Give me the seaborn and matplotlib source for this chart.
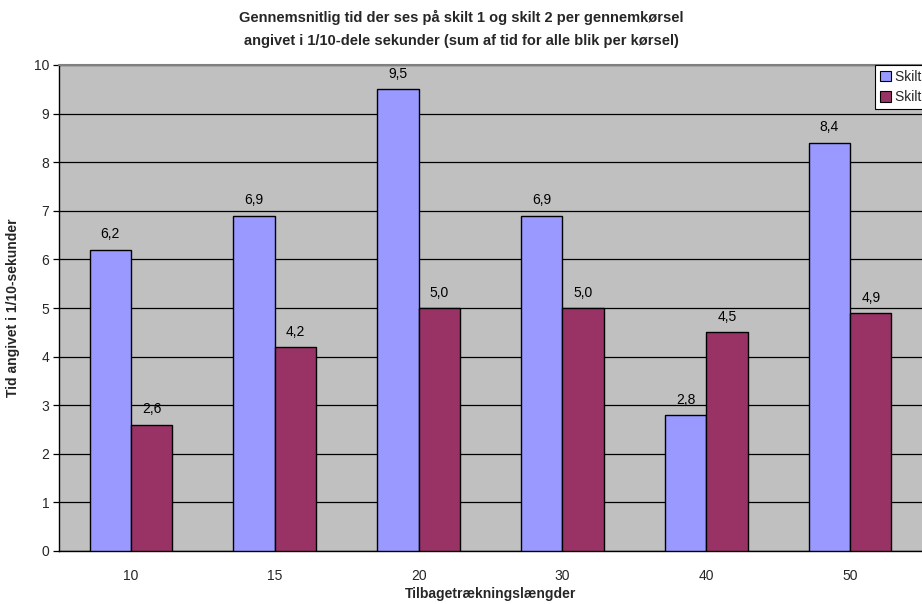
import matplotlib
matplotlib.use("Agg")
import matplotlib.pyplot as plt
import seaborn as sns
import pandas as pd
import numpy as np

categories = ["10", "15", "20", "30", "40", "50"]
skilt1 = [6.2, 6.9, 9.5, 6.9, 2.8, 8.4]
skilt2 = [2.6, 4.2, 5.0, 5.0, 4.5, 4.9]
series_names = ["Skilt 1", "Skilt 2"]
colors = ["#9999FF", "#993366"]

df = pd.DataFrame({
    "Tilbagetrækningslængder": categories * 2,
    "Tid": skilt1 + skilt2,
    "Serie": [series_names[0]] * len(categories) + [series_names[1]] * len(categories),
})

sns.set_style("white")
plt.rcParams["font.family"] = ["Liberation Sans", "DejaVu Sans"]

fig = plt.figure(figsize=(9.22, 6.04), dpi=100)
ax = fig.add_axes([59 / 922, 1 - 551 / 604, 1 - 59 / 922, (551 - 65) / 604])
ax.set_facecolor("#C0C0C0")

sns.barplot(data=df, x="Tilbagetrækningslængder", y="Tid", hue="Serie",
            palette=colors, width=0.574, gap=0, dodge=True,
            edgecolor="black", linewidth=1.0, saturation=1, ax=ax,
            legend=False, zorder=3)

for container in ax.containers:
    labels = [f"{v:.1f}".replace(".", ",") for v in container.datavalues]
    ax.bar_label(container, labels=labels, padding=6, fontsize=10, color="black")

ax.set_ylim(0, 10)
ax.set_xlim(-0.5, -0.5 + (922 - 59) / 146.5)
ax.set_yticks(range(0, 11))
ax.yaxis.grid(True, color="black", linewidth=0.9, zorder=0)
ax.set_axisbelow(True)

# category ticks sit between groups
ax.set_xticks(np.arange(len(categories)))
ax.set_xticklabels(categories)
ax.set_xticks(np.arange(-0.5, len(categories), 1), minor=True)
ax.tick_params(axis="x", which="major", length=0, labelsize=10, pad=13)
ax.tick_params(axis="x", which="minor", length=4, width=0.9, color="black", direction="out")
ax.tick_params(axis="y", length=4, width=0.9, color="black", direction="out", labelsize=10, pad=3, left=True)

for side in ["top", "right"]:
    ax.spines[side].set_visible(False)
ax.spines["left"].set_color("black")
ax.spines["bottom"].set_color("black")
ax.spines["left"].set_linewidth(1.0)
ax.spines["bottom"].set_linewidth(1.0)
ax.axhline(10, color="#808080", linewidth=1.5, zorder=4, clip_on=False)

ax.set_xlabel("Tilbagetrækningslængder", fontsize=10, fontweight="bold", labelpad=3)
ax.set_ylabel("Tid angivet i 1/10-sekunder", fontsize=10, fontweight="bold", labelpad=10)

fig.suptitle("Gennemsnitlig tid der ses på skilt 1 og skilt 2 per gennemkørsel\n"
             "angivet i 1/10-dele sekunder (sum af tid for alle blik per kørsel)",
             fontsize=10.5, fontweight="bold", y=0.983, x=0.5, linespacing=1.75)

handles = [plt.Rectangle((0, 0), 1, 1, facecolor=c, edgecolor="black", linewidth=0.8) for c in colors]
leg = fig.legend(handles, series_names, loc="upper left",
                 bbox_to_anchor=(875 / 922, 1 - 65 / 604),
                 fontsize=10, frameon=True, fancybox=False, framealpha=1,
                 edgecolor="black", handlelength=0.8, handleheight=0.8,
                 handletextpad=0.3, borderpad=0.35, labelspacing=0.45,
                 borderaxespad=0)
leg.get_frame().set_linewidth(0.8)

fig.savefig("out.png", dpi=100)
